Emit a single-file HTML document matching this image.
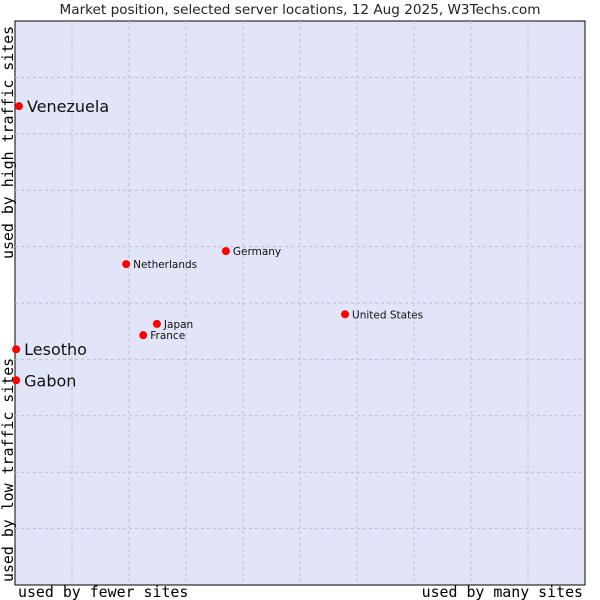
<!DOCTYPE html>
<html><head><meta charset="utf-8"><style>
body{margin:0;background:#fff;}
svg{display:block;font-family:"DejaVu Sans","Liberation Sans",sans-serif;}
</style></head><body>
<svg id="chart" width="600" height="600">
<text x="300" y="14" text-anchor="middle" font-size="13.6" fill="#222">Market position, selected server locations, 12 Aug 2025, W3Techs.com</text>
<rect x="15" y="21" width="570" height="564" fill="#e2e4f8" stroke="#000" stroke-width="1"/>
<g id="grid"></g>
<g id="points"></g>
<text x="18" y="597" font-family="DejaVu Sans Mono, Liberation Mono, monospace" font-size="14.9" fill="#000">used by fewer sites</text>
<text x="583" y="597" text-anchor="end" font-family="DejaVu Sans Mono, Liberation Mono, monospace" font-size="14.9" fill="#000">used by many sites</text>
<text transform="translate(13,582) rotate(-90)" font-family="DejaVu Sans Mono, Liberation Mono, monospace" font-size="14.9" fill="#000">used by low traffic sites</text>
<text transform="translate(13,259) rotate(-90)" font-family="DejaVu Sans Mono, Liberation Mono, monospace" font-size="14.9" fill="#000">used by high traffic sites</text>
</svg>
<script>
const countries = ["Venezuela","Lesotho","Gabon","Netherlands","Germany","Japan","France","United States"];
const xValues = [0.7,0.2,0.2,19.5,37.0,24.9,22.5,57.9];
const yValues = [84.9,41.8,36.3,56.9,59.2,46.3,44.3,48.0];
const bigLabel = [true,true,true,false,false,false,false,false];
const gridTicks = [10,20,30,40,50,60,70,80,90];
const NS="http://www.w3.org/2000/svg";
const L=15,R=585,T=21,B=585;
const sx=v=>L+v/100*(R-L);
const sy=v=>B-v/100*(B-T);
const grid=document.getElementById('grid');
gridTicks.forEach(t=>{
  const v=document.createElementNS(NS,'line');
  v.setAttribute('x1',sx(t));v.setAttribute('x2',sx(t));v.setAttribute('y1',T);v.setAttribute('y2',B);
  v.setAttribute('stroke','#c0c0c8');v.setAttribute('stroke-dasharray','3,3');
  
  
  grid.appendChild(v);
  const h=document.createElementNS(NS,'line');
  h.setAttribute('y1',sy(t));h.setAttribute('y2',sy(t));h.setAttribute('x1',L);h.setAttribute('x2',R);
  h.setAttribute('stroke','#c0c0c8');h.setAttribute('stroke-dasharray','3,3');
  
  
  grid.appendChild(h);
});
const pts=document.getElementById('points');
countries.forEach((c,i)=>{
  const x=sx(xValues[i]),y=sy(yValues[i]);
  const p=document.createElementNS(NS,'circle');
  p.setAttribute('cx',x);p.setAttribute('cy',y);p.setAttribute('r',4);p.setAttribute('fill','#f00');
  
  
  pts.appendChild(p);
  const t=document.createElementNS(NS,'text');
  t.setAttribute('x',x+(bigLabel[i]?8:7));
  t.setAttribute('y',y+(bigLabel[i]?6:4));
  t.setAttribute('font-size',bigLabel[i]?16:10.5);
  t.setAttribute('fill','#111');
  t.textContent=c;
  
  
  pts.appendChild(t);
});
</script>
</body></html>
